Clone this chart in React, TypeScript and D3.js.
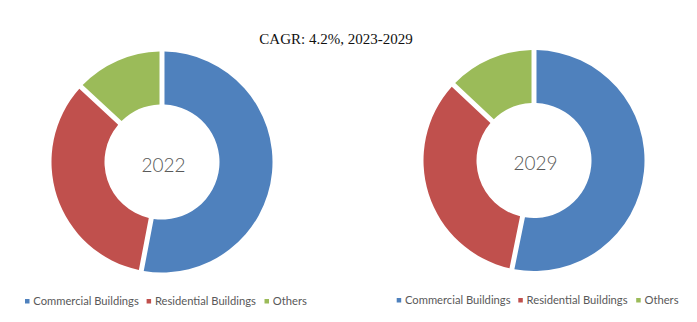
import React from "react";
import * as d3 from "d3";

const categories = ["Commercial Buildings", "Residential Buildings", "Others"];
const colors = ["#4F81BD", "#C0504D", "#9BBB59"];
const years = ["2022", "2029"];
const values2022 = [53.0, 33.9, 13.1];
const values2029 = [53.2, 33.8, 13.0];
const title = "CAGR: 4.2%, 2023-2029";

const W = 697;
const H = 322;

const donuts = [
  { year: years[0], values: values2022, cx: 162, cy: 162, legendX: 25, legendY: 305 },
  { year: years[1], values: values2029, cx: 534, cy: 160.5, legendX: 396.7, legendY: 304 },
];

const legendOffsets = [0, 121.6, 239.5];

export default function App() {
  const pie = d3
    .pie<number>()
    .sort(null)
    .value((d) => d)
    .startAngle(0)
    .endAngle(2 * Math.PI);
  const arc = d3
    .arc<d3.PieArcDatum<number>>()
    .innerRadius(57.5)
    .outerRadius(110.5)
    .padAngle(0.04);

  return (
    <svg
      width={W}
      height={H}
      style={{ position: "absolute", left: 0, top: 0, background: "#fff" }}
    >
      <rect width={W} height={H} fill="#fff" />
      <text
        x={336}
        y={44}
        textAnchor="middle"
        fontFamily="'Liberation Serif', serif"
        fontSize={15}
        fill="#111"
      >
        {title}
      </text>
      {donuts.map((dn) => (
        <g key={dn.year}>
          <g transform={`translate(${dn.cx},${dn.cy})`}>
            {pie(dn.values).map((a, i) => (
              <path key={i} d={arc(a) || ""} fill={colors[i]} />
            ))}
            <text
              x={1.5}
              y={9.5}
              textAnchor="middle"
              fontFamily="Lato, 'Open Sans', sans-serif"
              fontWeight={300}
              fontSize={19}
              fill="#595959"
            >
              {dn.year}
            </text>
          </g>
          <g transform={`translate(${dn.legendX},${dn.legendY})`}>
            {categories.map((c, i) => (
              <g key={c} transform={`translate(${legendOffsets[i]},0)`}>
                <rect x={0} y={-6} width={4.5} height={4.5} fill={colors[i]} />
                <text
                  x={8.3}
                  y={0}
                  fontFamily="Lato, 'Open Sans', sans-serif"
                  fontSize={11.2}
                  fill="#595959"
                >
                  {c}
                </text>
              </g>
            ))}
          </g>
        </g>
      ))}
    </svg>
  );
}
